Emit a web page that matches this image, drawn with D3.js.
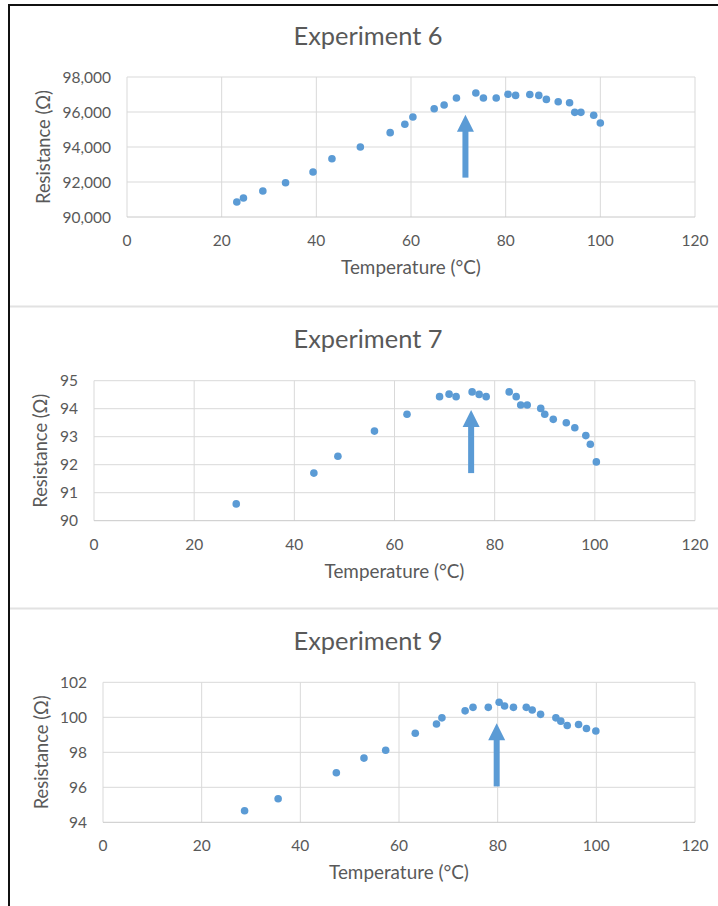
<!DOCTYPE html>
<html>
<head>
<meta charset="utf-8">
<script src="https://cdn.jsdelivr.net/npm/d3@7"></script>
<style>
  html, body { margin: 0; padding: 0; background: #fff; }
  svg { display: block; }
  text { font-family: Lato, "Open Sans", sans-serif; fill: #595959; }
</style>
</head>
<body>
<svg id="chart" width="718" height="906"></svg>
<script>
// ---------- DATA ----------
const titles = ["Experiment 6", "Experiment 7", "Experiment 9"];
const xLabel = "Temperature (°C)";
const yLabel = "Resistance (Ω)";
const xTicks = [0, 20, 40, 60, 80, 100, 120];

const exp6Temp = [23.2, 24.6, 28.7, 33.5, 39.3, 43.3, 49.3, 55.6, 58.7, 60.4, 64.9, 67.0, 69.6, 73.7, 75.3, 78.0, 80.5, 82.1, 85.1, 87.0, 88.6, 91.1, 93.5, 94.6, 95.9, 98.6, 100.0];
const exp6Res  = [90860, 91090, 91490, 91960, 92570, 93330, 94000, 94820, 95300, 95710, 96190, 96400, 96800, 97090, 96800, 96800, 97010, 96950, 97000, 96950, 96720, 96590, 96530, 95980, 95980, 95810, 95370];
const yTicks6 = [90000, 92000, 94000, 96000, 98000];
const arrow6 = { x: 71.5, from: 92250, to: 95850 };

const exp7Temp = [28.4, 43.9, 48.7, 56.0, 62.5, 69.0, 70.9, 72.3, 75.5, 76.9, 78.3, 82.9, 84.3, 85.2, 86.5, 89.2, 90.0, 91.7, 94.3, 96.0, 98.2, 99.1, 100.3];
const exp7Res  = [90.60, 91.70, 92.30, 93.20, 93.80, 94.43, 94.52, 94.43, 94.60, 94.51, 94.43, 94.60, 94.43, 94.13, 94.13, 94.01, 93.80, 93.62, 93.50, 93.32, 93.04, 92.73, 92.10];
const yTicks7 = [90, 91, 92, 93, 94, 95];
const arrow7 = { x: 75.3, from: 91.70, to: 93.95 };

const exp9Temp = [28.7, 35.5, 47.3, 52.9, 57.3, 63.3, 67.6, 68.7, 73.4, 75.0, 78.1, 80.3, 81.4, 83.2, 85.8, 87.0, 88.7, 91.8, 92.8, 94.1, 96.4, 98.0, 99.9];
const exp9Res  = [94.66, 95.35, 96.83, 97.67, 98.12, 99.09, 99.62, 99.97, 100.37, 100.57, 100.57, 100.86, 100.65, 100.57, 100.57, 100.42, 100.17, 99.97, 99.78, 99.53, 99.59, 99.36, 99.22];
const yTicks9 = [94, 96, 98, 100, 102];
const arrow9 = { x: 79.8, from: 96.05, to: 99.66 };

// ---------- LAYOUT ----------
const blue = "#5b9bd5";
const svg = d3.select("#chart");

const panels = [
  { title: titles[0], temp: exp6Temp, res: exp6Res, yTicks: yTicks6, fmt: d3.format(","), arrow: arrow6,
    left: 127, right: 695, top: 77, bottom: 217, titleY: 44.5, yTitleX: 43.5 },
  { title: titles[1], temp: exp7Temp, res: exp7Res, yTicks: yTicks7, fmt: d3.format("d"), arrow: arrow7,
    left: 94, right: 695, top: 380.7, bottom: 520.7, titleY: 347.5, yTitleX: 41 },
  { title: titles[2], temp: exp9Temp, res: exp9Res, yTicks: yTicks9, fmt: d3.format("d"), arrow: arrow9,
    left: 103, right: 695, top: 682.3, bottom: 822.3, titleY: 650, yTitleX: 42 }
];

function fitWidth(sel, target) {
  const node = sel.node();
  const fs = parseFloat(sel.attr("font-size"));
  const w = node.getComputedTextLength();
  if (w > 0) sel.attr("font-size", (fs * target / w).toFixed(2));
}

panels.forEach(p => {
  const x = d3.scaleLinear().domain([xTicks[0], xTicks[xTicks.length - 1]]).range([p.left, p.right]);
  const y = d3.scaleLinear().domain([p.yTicks[0], p.yTicks[p.yTicks.length - 1]]).range([p.bottom, p.top]);
  const g = svg.append("g");

  // gridlines
  g.selectAll(".vg").data(xTicks).join("line")
    .attr("x1", d => x(d)).attr("x2", d => x(d))
    .attr("y1", p.top).attr("y2", p.bottom)
    .attr("stroke", "#d9d9d9").attr("stroke-width", 1);
  g.selectAll(".hg").data(p.yTicks).join("line")
    .attr("x1", p.left).attr("x2", p.right)
    .attr("y1", d => y(d)).attr("y2", d => y(d))
    .attr("stroke", (d, i) => i === 0 ? "#c8c8c8" : "#d9d9d9").attr("stroke-width", 1);

  // x tick labels
  g.selectAll(".xt").data(xTicks).join("text")
    .attr("x", d => x(d)).attr("y", p.bottom + 29)
    .attr("text-anchor", "middle").attr("font-size", 15.5)
    .text(d => d);

  // y tick labels
  g.selectAll(".yt").data(p.yTicks).join("text")
    .attr("x", p.left - 16).attr("y", d => y(d) + 5.5)
    .attr("text-anchor", "end").attr("font-size", 15.5)
    .text(d => p.fmt(d));

  // title
  const t = g.append("text")
    .attr("x", 368).attr("y", p.titleY)
    .attr("text-anchor", "middle").attr("font-size", 24)
    .text(p.title);
  fitWidth(t, 149);

  // x axis title
  const xt = g.append("text")
    .attr("x", (p.left + p.right) / 2).attr("y", p.bottom + 57)
    .attr("text-anchor", "middle").attr("font-size", 17)
    .text(xLabel);
  fitWidth(xt, 140);

  // y axis title
  const cy = (p.top + p.bottom) / 2;
  const yt = g.append("text")
    .attr("transform", `translate(${p.yTitleX + 6},${cy}) rotate(-90)`)
    .attr("text-anchor", "middle").attr("font-size", 17)
    .text(yLabel);
  fitWidth(yt, 114);

  // points
  g.selectAll(".pt").data(p.temp.map((d, i) => [d, p.res[i]])).join("circle")
    .attr("cx", d => x(d[0])).attr("cy", d => y(d[1]))
    .attr("r", 3.8).attr("fill", blue);

  // arrow
  const ax = x(p.arrow.x), yb = y(p.arrow.from), yt2 = y(p.arrow.to);
  const headL = 17, headW = 17, shaftW = 6;
  g.append("rect")
    .attr("x", ax - shaftW / 2).attr("y", yt2 + headL - 1)
    .attr("width", shaftW).attr("height", yb - yt2 - headL + 1)
    .attr("fill", blue);
  g.append("path")
    .attr("d", `M${ax},${yt2} L${ax + headW / 2},${yt2 + headL} L${ax - headW / 2},${yt2 + headL} Z`)
    .attr("fill", blue);
});

// frame
svg.append("line").attr("x1", 8).attr("x2", 718).attr("y1", 5).attr("y2", 5)
  .attr("stroke", "#111").attr("stroke-width", 2);
svg.append("line").attr("x1", 9).attr("x2", 9).attr("y1", 4).attr("y2", 906)
  .attr("stroke", "#111").attr("stroke-width", 2);
[306.5, 608.5].forEach(yy => {
  svg.append("line").attr("x1", 10).attr("x2", 718).attr("y1", yy).attr("y2", yy)
    .attr("stroke", "#e2e2e2").attr("stroke-width", 2);
});
</script>
</body>
</html>
